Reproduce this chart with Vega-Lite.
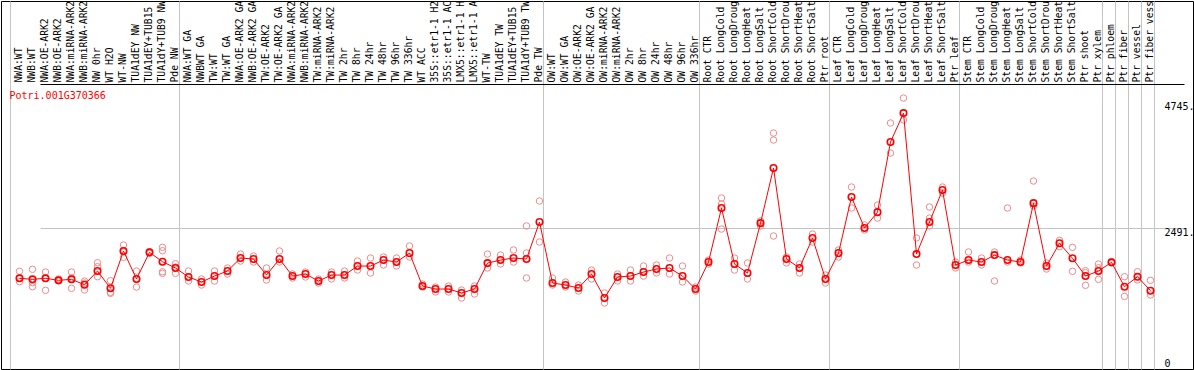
{
  "$schema": "https://vega.github.io/schema/vega-lite/v6.json",
  "autosize": "none",
  "padding": {"left": 1, "top": 1, "right": 1, "bottom": 1},
  "width": 1192,
  "height": 368,
  "background": "white",
  "config": {
    "view": {"stroke": "black", "strokeWidth": 1},
    "axis": {"labelFont": "DejaVu Sans Mono", "labelFontSize": 10, "labelColor": "black"}
  },
  "datasets": {
    "rows": [
      {"s":"00|NWA:WT","t":"m","v":1583},{"s":"00|NWA:WT","t":"r","v":1709},{"s":"00|NWA:WT","t":"r","v":1522},{"s":"00|NWA:WT","t":"r","v":1589},
      {"s":"01|NWB:WT","t":"m","v":1565},{"s":"01|NWB:WT","t":"r","v":1745},{"s":"01|NWB:WT","t":"r","v":1433},{"s":"01|NWB:WT","t":"r","v":1504},
      {"s":"02|NWA:OE-ARK2","t":"m","v":1583},{"s":"02|NWA:OE-ARK2","t":"r","v":1696},{"s":"02|NWA:OE-ARK2","t":"r","v":1368},{"s":"02|NWA:OE-ARK2","t":"r","v":1583},
      {"s":"03|NWB:OE-ARK2","t":"m","v":1547},{"s":"03|NWB:OE-ARK2","t":"r","v":1553},{"s":"03|NWB:OE-ARK2","t":"r","v":1535},{"s":"03|NWB:OE-ARK2","t":"r","v":1571},
      {"s":"04|NWA:miRNA-ARK2","t":"m","v":1565},{"s":"04|NWA:miRNA-ARK2","t":"r","v":1696},{"s":"04|NWA:miRNA-ARK2","t":"r","v":1404},{"s":"04|NWA:miRNA-ARK2","t":"r","v":1589},
      {"s":"05|NWB:miRNA-ARK2","t":"m","v":1468},{"s":"05|NWB:miRNA-ARK2","t":"r","v":1535},{"s":"05|NWB:miRNA-ARK2","t":"r","v":1373},{"s":"05|NWB:miRNA-ARK2","t":"r","v":1499},
      {"s":"06|NW 0hr","t":"m","v":1714},{"s":"06|NW 0hr","t":"r","v":1863},{"s":"06|NW 0hr","t":"r","v":1791},{"s":"06|NW 0hr","t":"r","v":1612},
      {"s":"07|WT H2O","t":"m","v":1404},{"s":"07|WT H2O","t":"r","v":1540},{"s":"07|WT H2O","t":"r","v":1332},{"s":"07|WT H2O","t":"r","v":1314},
      {"s":"08|WT-NW","t":"m","v":2073},{"s":"08|WT-NW","t":"r","v":2180},{"s":"08|WT-NW","t":"r","v":1960},{"s":"08|WT-NW","t":"r","v":2055},
      {"s":"09|TUA1dEY NW","t":"m","v":1571},{"s":"09|TUA1dEY NW","t":"r","v":1714},{"s":"09|TUA1dEY NW","t":"r","v":1427},{"s":"09|TUA1dEY NW","t":"r","v":1571},
      {"s":"10|TUA1dEY+TUB15 NW","t":"m","v":2049},{"s":"10|TUA1dEY+TUB15 NW","t":"r","v":2060},{"s":"10|TUA1dEY+TUB15 NW","t":"r","v":2031},{"s":"10|TUA1dEY+TUB15 NW","t":"r","v":2055},
      {"s":"11|TUA1dY+TUB9 NW","t":"m","v":1881},{"s":"11|TUA1dY+TUB9 NW","t":"r","v":2139},{"s":"11|TUA1dY+TUB9 NW","t":"r","v":2078},{"s":"11|TUA1dY+TUB9 NW","t":"r","v":1701},{"s":"11|TUA1dY+TUB9 NW","t":"r","v":1673},
      {"s":"12|Pde NW","t":"m","v":1768},{"s":"12|Pde NW","t":"r","v":1845},{"s":"12|Pde NW","t":"r","v":1673},{"s":"12|Pde NW","t":"r","v":1786},
      {"s":"13|NWA:WT GA","t":"m","v":1607},{"s":"13|NWA:WT GA","t":"r","v":1714},{"s":"13|NWA:WT GA","t":"r","v":1535},
      {"s":"14|NWBWT GA","t":"m","v":1517},{"s":"14|NWBWT GA","t":"r","v":1571},{"s":"14|NWBWT GA","t":"r","v":1463},
      {"s":"15|TW:WT","t":"m","v":1624},{"s":"15|TW:WT","t":"r","v":1714},{"s":"15|TW:WT","t":"r","v":1535},
      {"s":"16|TW:WT GA","t":"m","v":1714},{"s":"16|TW:WT GA","t":"r","v":1768},{"s":"16|TW:WT GA","t":"r","v":1660},
      {"s":"17|NWA:OE-ARK2 GA","t":"m","v":1947},{"s":"17|NWA:OE-ARK2 GA","t":"r","v":2018},{"s":"17|NWA:OE-ARK2 GA","t":"r","v":1893},
      {"s":"18|NWB:OE-ARK2 GA","t":"m","v":1929},{"s":"18|NWB:OE-ARK2 GA","t":"r","v":1983},{"s":"18|NWB:OE-ARK2 GA","t":"r","v":1875},
      {"s":"19|TW:OE-ARK2","t":"m","v":1642},{"s":"19|TW:OE-ARK2","t":"r","v":1768},{"s":"19|TW:OE-ARK2","t":"r","v":1553},
      {"s":"20|TW:OE-ARK2 GA","t":"m","v":1929},{"s":"20|TW:OE-ARK2 GA","t":"r","v":2073},{"s":"20|TW:OE-ARK2 GA","t":"r","v":1875},
      {"s":"21|NWA:miRNA-ARK2","t":"m","v":1624},{"s":"21|NWA:miRNA-ARK2","t":"r","v":1660},{"s":"21|NWA:miRNA-ARK2","t":"r","v":1589},
      {"s":"22|NWB:miRNA-ARK2","t":"m","v":1660},{"s":"22|NWB:miRNA-ARK2","t":"r","v":1696},{"s":"22|NWB:miRNA-ARK2","t":"r","v":1607},
      {"s":"23|TW:miRNA-ARK2","t":"m","v":1535},{"s":"23|TW:miRNA-ARK2","t":"r","v":1571},{"s":"23|TW:miRNA-ARK2","t":"r","v":1499},
      {"s":"24|TW:miRNA-ARK2","t":"m","v":1642},{"s":"24|TW:miRNA-ARK2","t":"r","v":1696},{"s":"24|TW:miRNA-ARK2","t":"r","v":1571},
      {"s":"25|TW 2hr","t":"m","v":1642},{"s":"25|TW 2hr","t":"r","v":1714},{"s":"25|TW 2hr","t":"r","v":1589},
      {"s":"26|TW 8hr","t":"m","v":1803},{"s":"26|TW 8hr","t":"r","v":1893},{"s":"26|TW 8hr","t":"r","v":1732},
      {"s":"27|TW 24hr","t":"m","v":1803},{"s":"27|TW 24hr","t":"r","v":1947},{"s":"27|TW 24hr","t":"r","v":1678},
      {"s":"28|TW 48hr","t":"m","v":1911},{"s":"28|TW 48hr","t":"r","v":1965},{"s":"28|TW 48hr","t":"r","v":1822},
      {"s":"29|TW 96hr","t":"m","v":1875},{"s":"29|TW 96hr","t":"r","v":1947},{"s":"29|TW 96hr","t":"r","v":1804},
      {"s":"30|TW 336hr","t":"m","v":2036},{"s":"30|TW 336hr","t":"r","v":2162},{"s":"30|TW 336hr","t":"r","v":1965},
      {"s":"31|WT ACC","t":"m","v":1445},{"s":"31|WT ACC","t":"r","v":1481},{"s":"31|WT ACC","t":"r","v":1427},
      {"s":"32|35S::etr1-1 H2O","t":"m","v":1391},{"s":"32|35S::etr1-1 H2O","t":"r","v":1427},{"s":"32|35S::etr1-1 H2O","t":"r","v":1338},
      {"s":"33|35S::etr1-1 ACC","t":"m","v":1391},{"s":"33|35S::etr1-1 ACC","t":"r","v":1445},{"s":"33|35S::etr1-1 ACC","t":"r","v":1338},
      {"s":"34|LMX5::etr1-1 H2O","t":"m","v":1320},{"s":"34|LMX5::etr1-1 H2O","t":"r","v":1373},{"s":"34|LMX5::etr1-1 H2O","t":"r","v":1230},
      {"s":"35|LMX5::etr1-1 ACC","t":"m","v":1391},{"s":"35|LMX5::etr1-1 ACC","t":"r","v":1445},{"s":"35|LMX5::etr1-1 ACC","t":"r","v":1302},
      {"s":"36|WT-TW","t":"m","v":1856},{"s":"36|WT-TW","t":"r","v":2018},{"s":"36|WT-TW","t":"r","v":1768},
      {"s":"37|TUA1dEY TW","t":"m","v":1911},{"s":"37|TUA1dEY TW","t":"r","v":2001},{"s":"37|TUA1dEY TW","t":"r","v":1840},
      {"s":"38|TUA1dEY+TUB15 TW","t":"m","v":1947},{"s":"38|TUA1dEY+TUB15 TW","t":"r","v":2091},{"s":"38|TUA1dEY+TUB15 TW","t":"r","v":1875},
      {"s":"39|TUA1dY+TUB9 TW","t":"m","v":1929},{"s":"39|TUA1dY+TUB9 TW","t":"r","v":2522},{"s":"39|TUA1dY+TUB9 TW","t":"r","v":2037},{"s":"39|TUA1dY+TUB9 TW","t":"r","v":1589},
      {"s":"40|Pde TW","t":"m","v":2593},{"s":"40|Pde TW","t":"r","v":2969},{"s":"40|Pde TW","t":"r","v":2234},
      {"s":"41|OW:WT","t":"m","v":1499},{"s":"41|OW:WT","t":"r","v":1589},{"s":"41|OW:WT","t":"r","v":1463},
      {"s":"42|OW:WT GA","t":"m","v":1463},{"s":"42|OW:WT GA","t":"r","v":1517},{"s":"42|OW:WT GA","t":"r","v":1427},
      {"s":"43|OW:OE-ARK2","t":"m","v":1409},{"s":"43|OW:OE-ARK2","t":"r","v":1463},{"s":"43|OW:OE-ARK2","t":"r","v":1355},
      {"s":"44|OW:OE-ARK2 GA","t":"m","v":1660},{"s":"44|OW:OE-ARK2 GA","t":"r","v":1732},{"s":"44|OW:OE-ARK2 GA","t":"r","v":1571},
      {"s":"45|OW:miRNA-ARK2","t":"m","v":1230},{"s":"45|OW:miRNA-ARK2","t":"r","v":1320},{"s":"45|OW:miRNA-ARK2","t":"r","v":1140},
      {"s":"46|OW:miRNA-ARK2","t":"m","v":1607},{"s":"46|OW:miRNA-ARK2","t":"r","v":1660},{"s":"46|OW:miRNA-ARK2","t":"r","v":1535},
      {"s":"47|OW 2hr","t":"m","v":1624},{"s":"47|OW 2hr","t":"r","v":1732},{"s":"47|OW 2hr","t":"r","v":1535},
      {"s":"48|OW 8hr","t":"m","v":1696},{"s":"48|OW 8hr","t":"r","v":1804},{"s":"48|OW 8hr","t":"r","v":1624},
      {"s":"49|OW 24hr","t":"m","v":1750},{"s":"49|OW 24hr","t":"r","v":1822},{"s":"49|OW 24hr","t":"r","v":1678},
      {"s":"50|OW 48hr","t":"m","v":1768},{"s":"50|OW 48hr","t":"r","v":1947},{"s":"50|OW 48hr","t":"r","v":1660},
      {"s":"51|OW 96hr","t":"m","v":1624},{"s":"51|OW 96hr","t":"r","v":1804},{"s":"51|OW 96hr","t":"r","v":1517},
      {"s":"52|OW 336hr","t":"m","v":1391},{"s":"52|OW 336hr","t":"r","v":1427},{"s":"52|OW 336hr","t":"r","v":1355},
      {"s":"53|Root CTR","t":"m","v":1875},{"s":"53|Root CTR","t":"r","v":1911},{"s":"53|Root CTR","t":"r","v":1840},
      {"s":"54|Root LongCold","t":"m","v":2844},{"s":"54|Root LongCold","t":"r","v":3023},{"s":"54|Root LongCold","t":"r","v":2915},{"s":"54|Root LongCold","t":"r","v":2467},
      {"s":"55|Root LongDrought","t":"m","v":1839},{"s":"55|Root LongDrought","t":"r","v":1947},{"s":"55|Root LongDrought","t":"r","v":1732},
      {"s":"56|Root LongHeat","t":"m","v":1678},{"s":"56|Root LongHeat","t":"r","v":1858},{"s":"56|Root LongHeat","t":"r","v":1571},
      {"s":"57|Root LongSalt","t":"m","v":2573},{"s":"57|Root LongSalt","t":"r","v":2611},{"s":"57|Root LongSalt","t":"r","v":2522},
      {"s":"58|Root ShortCold","t":"m","v":3561},{"s":"58|Root ShortCold","t":"r","v":4188},{"s":"58|Root ShortCold","t":"r","v":4063},{"s":"58|Root ShortCold","t":"r","v":2342},
      {"s":"59|Root ShortDrought","t":"m","v":1929},{"s":"59|Root ShortDrought","t":"r","v":1965},{"s":"59|Root ShortDrought","t":"r","v":1858},
      {"s":"60|Root ShortHeat","t":"m","v":1768},{"s":"60|Root ShortHeat","t":"r","v":1840},{"s":"60|Root ShortHeat","t":"r","v":1678},
      {"s":"61|Root ShortSalt","t":"m","v":2305},{"s":"61|Root ShortSalt","t":"r","v":2377},{"s":"61|Root ShortSalt","t":"r","v":2234},
      {"s":"62|Ptr root","t":"m","v":1571},{"s":"62|Ptr root","t":"r","v":1642},{"s":"62|Ptr root","t":"r","v":1499},
      {"s":"63|Leaf CTR","t":"m","v":2036},{"s":"63|Leaf CTR","t":"r","v":2091},{"s":"63|Leaf CTR","t":"r","v":1965},
      {"s":"64|Leaf LongCold","t":"m","v":3041},{"s":"64|Leaf LongCold","t":"r","v":3220},{"s":"64|Leaf LongCold","t":"r","v":2844},
      {"s":"65|Leaf LongDrought","t":"m","v":2485},{"s":"65|Leaf LongDrought","t":"r","v":2540},{"s":"65|Leaf LongDrought","t":"r","v":2449},
      {"s":"66|Leaf LongHeat","t":"m","v":2770},{"s":"66|Leaf LongHeat","t":"r","v":2897},{"s":"66|Leaf LongHeat","t":"r","v":2664},
      {"s":"67|Leaf LongSalt","t":"m","v":4027},{"s":"67|Leaf LongSalt","t":"r","v":4368},{"s":"67|Leaf LongSalt","t":"r","v":3830},
      {"s":"68|Leaf ShortCold","t":"m","v":4546},{"s":"68|Leaf ShortCold","t":"r","v":4816},{"s":"68|Leaf ShortCold","t":"r","v":4422},
      {"s":"69|Leaf ShortDrought","t":"m","v":2018},{"s":"69|Leaf ShortDrought","t":"r","v":2306},{"s":"69|Leaf ShortDrought","t":"r","v":1822},
      {"s":"70|Leaf ShortHeat","t":"m","v":2593},{"s":"70|Leaf ShortHeat","t":"r","v":2862},{"s":"70|Leaf ShortHeat","t":"r","v":2664},{"s":"70|Leaf ShortHeat","t":"r","v":2522},
      {"s":"71|Leaf ShortSalt","t":"m","v":3167},{"s":"71|Leaf ShortSalt","t":"r","v":3220},{"s":"71|Leaf ShortSalt","t":"r","v":3113},
      {"s":"72|Ptr leaf","t":"m","v":1821},{"s":"72|Ptr leaf","t":"r","v":1875},{"s":"72|Ptr leaf","t":"r","v":1768},
      {"s":"73|Stem CTR","t":"m","v":1911},{"s":"73|Stem CTR","t":"r","v":2055},{"s":"73|Stem CTR","t":"r","v":1875},
      {"s":"74|Stem LongCold","t":"m","v":1875},{"s":"74|Stem LongCold","t":"r","v":1947},{"s":"74|Stem LongCold","t":"r","v":1822},
      {"s":"75|Stem LongDrought","t":"m","v":2000},{"s":"75|Stem LongDrought","t":"r","v":2055},{"s":"75|Stem LongDrought","t":"r","v":1535},
      {"s":"76|Stem LongHeat","t":"m","v":1911},{"s":"76|Stem LongHeat","t":"r","v":2844},{"s":"76|Stem LongHeat","t":"r","v":1875},
      {"s":"77|Stem LongSalt","t":"m","v":1875},{"s":"77|Stem LongSalt","t":"r","v":1911},{"s":"77|Stem LongSalt","t":"r","v":1858},
      {"s":"78|Stem ShortCold","t":"m","v":2931},{"s":"78|Stem ShortCold","t":"r","v":3328},{"s":"78|Stem ShortCold","t":"r","v":2880},
      {"s":"79|Stem ShortDrought","t":"m","v":1803},{"s":"79|Stem ShortDrought","t":"r","v":1858},{"s":"79|Stem ShortDrought","t":"r","v":1750},
      {"s":"80|Stem ShortHeat","t":"m","v":2211},{"s":"80|Stem ShortHeat","t":"r","v":2265},{"s":"80|Stem ShortHeat","t":"r","v":2150},
      {"s":"81|Stem ShortSalt","t":"m","v":1942},{"s":"81|Stem ShortSalt","t":"r","v":2139},{"s":"81|Stem ShortSalt","t":"r","v":1709},
      {"s":"82|Ptr shoot","t":"m","v":1624},{"s":"82|Ptr shoot","t":"r","v":1720},{"s":"82|Ptr shoot","t":"r","v":1684},{"s":"82|Ptr shoot","t":"r","v":1458},
      {"s":"83|Ptr xylem","t":"m","v":1714},{"s":"83|Ptr xylem","t":"r","v":1840},{"s":"83|Ptr xylem","t":"r","v":1773},{"s":"83|Ptr xylem","t":"r","v":1565},
      {"s":"84|Ptr phloem","t":"m","v":1870},{"s":"84|Ptr phloem","t":"r","v":1858},{"s":"84|Ptr phloem","t":"r","v":1884},
      {"s":"85|Ptr fiber","t":"m","v":1433},{"s":"85|Ptr fiber","t":"r","v":1612},{"s":"85|Ptr fiber","t":"r","v":1260},
      {"s":"86|Ptr vessel","t":"m","v":1612},{"s":"86|Ptr vessel","t":"r","v":1702},{"s":"86|Ptr vessel","t":"r","v":1553},
      {"s":"87|Ptr fiber vessel","t":"m","v":1361},{"s":"87|Ptr fiber vessel","t":"r","v":1547},{"s":"87|Ptr fiber vessel","t":"r","v":1284}
    ]
  },
  "data": {"name": "rows"},
  "encoding": {
    "x": {
      "field": "s",
      "type": "ordinal",
      "sort": "ascending",
      "scale": {"range": [9, 1153], "paddingInner": 0, "paddingOuter": 0},
      "axis": {
        "orient": "top",
        "offset": -83,
        "title": null,
        "ticks": false,
        "domain": false,
        "labelAngle": 270,
        "labelAlign": "left",
        "labelBaseline": "middle",
        "labelPadding": 2,
        "labelOffset": 2,
        "labelFontSize": 9.7,
        "labelOverlap": false,
        "labelBound": false,
        "labelFlush": false,
        "labelLimit": 400,
        "labelExpr": "substring(datum.label, 3, 17)",
        "grid": true,
        "tickBand": "extent",
        "gridColor": "#c4c4c4",
        "gridWidth": 1,
        "gridOpacity": {"condition": {"test": "datum.extra || indexof(['12','40','52','62','72','83','84','85','86','87'], substring(datum.value, 0, 2)) >= 0", "value": 1}, "value": 0}
      }
    },
    "y": {
      "field": "v",
      "type": "quantitative",
      "scale": {"domain": [-43, 6556], "nice": false, "zero": false},
      "axis": {
        "orient": "right",
        "values": [0, 2491, 4745, 5067],
        "ticks": false,
        "domain": false,
        "labelAlign": "left",
        "labelPadding": -29,
        "labelBaseline": {"condition": {"test": "datum.value == 0", "value": "alphabetic"}, "value": "top"},
        "labelExpr": "datum.value == 5067 ? '' : (datum.value == 0 ? '0' : datum.value + '.')",
        "grid": true,
        "gridColor": {"condition": {"test": "datum.value == 5067", "value": "black"}, "value": "#c4c4c4"},
        "gridOpacity": {"condition": {"test": "datum.value == 2491 || datum.value == 5067", "value": 1}, "value": 0},
        "title": "Potri.001G370366",
        "titleAngle": 0,
        "titleAlign": "left",
        "titleBaseline": "top",
        "titleX": -1184,
        "titleY": 89,
        "titleColor": "red",
        "titleFont": "DejaVu Sans Mono",
        "titleFontSize": 10,
        "titleFontWeight": "normal"
      }
    }
  },
  "layer": [
    {
      "transform": [{"filter": "datum.t == 'r'"}],
      "mark": {"type": "point", "shape": "circle", "filled": false, "color": "#f08a8a", "size": 42, "strokeWidth": 1, "xOffset": 3, "opacity": 1}
    },
    {
      "transform": [{"filter": "datum.t == 'm'"}],
      "mark": {"type": "line", "color": "red", "strokeWidth": 1, "xOffset": 3}
    },
    {
      "transform": [{"filter": "datum.t == 'm'"}],
      "mark": {"type": "point", "shape": "circle", "filled": false, "color": "red", "size": 42, "strokeWidth": 1.6, "xOffset": 3, "opacity": 1}
    }
  ]
}
